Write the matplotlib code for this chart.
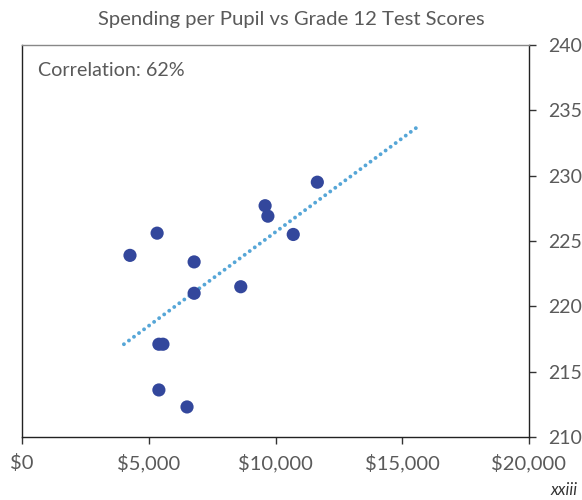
import matplotlib.pyplot as plt
from matplotlib.ticker import FuncFormatter


# spending per pupil ($) and grade 12 test scores
spending = [4260, 5330, 5400, 5560, 5400, 6510, 6790, 6790, 8630, 9590, 9700, 10700, 11650]
scores = [223.9, 225.6, 217.1, 217.1, 213.6, 212.3, 223.4, 221.0, 221.5, 227.7, 226.9, 225.5, 229.5]

# trend line end points
trend_x = [4020, 15580]
trend_y = [217.1, 233.7]

x_ticks = [0, 5000, 10000, 15000, 20000]
y_ticks = [210, 215, 220, 225, 230, 235, 240]

TEXT = "#5a5a5a"
DOT = "#33479c"
LINE = "#56a6d7"

plt.rcParams["font.family"] = ["Lato", "DejaVu Sans"]

fig = plt.figure(figsize=(5.82, 5.0), dpi=100)
ax = fig.add_axes([22 / 582, 63 / 500, 507 / 582, 392 / 500])

ax.plot(trend_x, trend_y, color=LINE, lw=2.8, linestyle=(0, (0.01, 1.6)),
        dash_capstyle="round", zorder=2)
ax.scatter(spending, scores, s=90, color=DOT, edgecolors="none", zorder=3)

ax.set_xlim(0, 20000)
ax.set_ylim(210, 240)
ax.set_xticks(x_ticks)
ax.set_yticks(y_ticks)
ax.xaxis.set_major_formatter(FuncFormatter(lambda v, p: f"${v:,.0f}"))
ax.yaxis.tick_right()

ax.tick_params(axis="both", direction="out", length=5, width=1, colors="#333333",
               labelcolor=TEXT, labelsize=14.5)
ax.tick_params(axis="x", pad=7)
ax.tick_params(axis="y", pad=9, labelsize=14)

for side in ["left", "right", "bottom"]:
    ax.spines[side].set_color("#222222")
    ax.spines[side].set_linewidth(1)
ax.spines["top"].set_color("#888888")
ax.spines["top"].set_linewidth(1)

ax.text(0.032, 0.935, "Correlation: 62%", transform=ax.transAxes, fontsize=14.2,
        color=TEXT, ha="left", va="center")

fig.text(0.5, 0.96, "Spending per Pupil vs Grade 12 Test Scores", ha="center",
         va="center", fontsize=14.6, color=TEXT)
fig.text(578 / 582, 1 - 490 / 500, "xxiii", ha="right", va="center", fontsize=12,
         color="#333333", style="italic")

fig.savefig("out.png", dpi=100)
plt.close(fig)
